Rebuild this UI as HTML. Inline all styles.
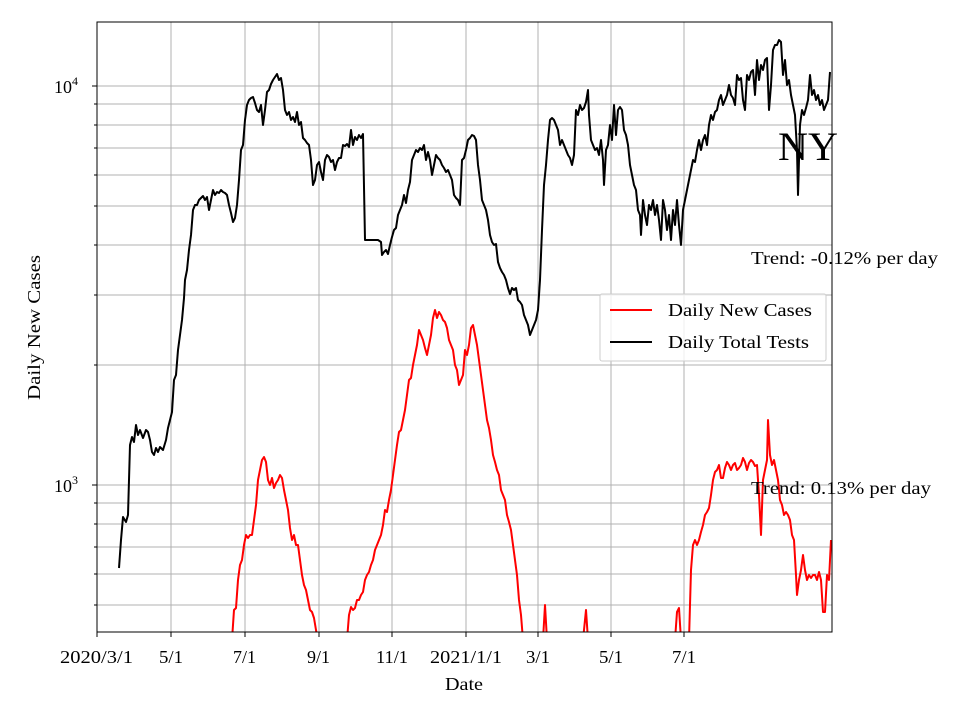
<!DOCTYPE html>
<html><head><meta charset="utf-8"><style>
body{margin:0;background:#fff}
svg text{font-family:"Liberation Serif",serif;fill:#000}
</style></head><body>
<svg width="960" height="720" viewBox="0 0 960 720" xmlns="http://www.w3.org/2000/svg">
<rect width="960" height="720" fill="#fff"/>
<defs><clipPath id="c"><rect x="97" y="22" width="735" height="610"/></clipPath></defs>
<g stroke="#b0b0b0" stroke-width="1">
<line x1="171" y1="22" x2="171" y2="632"/><line x1="245" y1="22" x2="245" y2="632"/>
<line x1="319" y1="22" x2="319" y2="632"/><line x1="392" y1="22" x2="392" y2="632"/>
<line x1="466" y1="22" x2="466" y2="632"/><line x1="538" y1="22" x2="538" y2="632"/>
<line x1="611" y1="22" x2="611" y2="632"/><line x1="684" y1="22" x2="684" y2="632"/>
<line x1="97" y1="605" x2="832" y2="605"/><line x1="97" y1="574" x2="832" y2="574"/>
<line x1="97" y1="547" x2="832" y2="547"/><line x1="97" y1="524" x2="832" y2="524"/>
<line x1="97" y1="503" x2="832" y2="503"/><line x1="97" y1="485" x2="832" y2="485"/>
<line x1="97" y1="365" x2="832" y2="365"/><line x1="97" y1="295" x2="832" y2="295"/>
<line x1="97" y1="245" x2="832" y2="245"/><line x1="97" y1="206" x2="832" y2="206"/>
<line x1="97" y1="175" x2="832" y2="175"/><line x1="97" y1="148" x2="832" y2="148"/>
<line x1="97" y1="125" x2="832" y2="125"/><line x1="97" y1="104" x2="832" y2="104"/>
<line x1="97" y1="86" x2="832" y2="86"/>
</g>
<g clip-path="url(#c)" fill="none" stroke-width="2" stroke-linejoin="round">
<polyline stroke="#000" points="119,568 121,540 123,517 126,522 128,515 130,445 132,437 134,442 136,425 138,435 140,430 143,438 146,430 148,432 150,440 152,452 154,455 156,448 158,452 160,447 163,450 166,440 168,428 170,420 172,412 174,380 176,375 178,350 180,335 182,320 184,298 185,280 187,270 189,250 191,235 193,210 195,205 197,205 199,200 201,198 203,196 205,200 207,197 209,210 211,200 213,190 215,195 217,192 219,193 221,190 223,192 225,193 227,195 229,205 231,213 233,222 235,218 237,205 239,180 241,150 243,145 245,120 247,105 249,100 251,98 253,97 255,103 257,110 259,112 261,105 263,125 265,110 267,92 269,90 271,84 273,80 275,77 277,74 279,80 281,78 283,90 285,110 287,115 289,112 291,120 293,117 295,122 297,112 299,125 301,122 303,138 305,140 307,143 309,145 311,160 313,185 315,180 317,165 319,162 321,172 323,180 325,160 327,155 329,157 331,162 333,160 335,170 337,162 339,158 341,158 343,145 345,146 347,144 349,147 351,130 353,145 355,137 357,140 359,135 361,138 363,134 365,240 367,240 370,240 375,240 378,240 381,242 382,255 384,252 386,250 388,254 390,245 392,237 394,230 396,228 398,215 400,210 402,205 404,195 406,203 408,190 410,182 412,160 414,155 416,150 418,152 420,148 422,150 424,145 426,160 428,152 430,160 432,175 434,165 436,155 438,158 440,160 442,165 444,168 446,172 448,170 450,175 452,180 454,195 456,198 458,200 460,205 462,160 464,158 466,150 468,140 470,138 472,135 474,136 476,140 478,165 480,180 482,200 484,205 486,210 488,220 490,235 492,242 494,245 496,244 498,262 500,268 502,272 504,275 506,280 508,288 510,294 512,288 514,290 516,288 518,300 520,302 522,305 524,315 526,320 528,325 530,335 532,330 534,325 536,320 538,310 540,280 542,230 544,185 546,165 548,140 550,120 552,118 554,120 556,125 558,130 560,145 562,140 564,145 566,150 568,155 570,158 572,165 574,155 576,110 578,115 580,105 582,110 584,108 586,102 588,90 589,115 591,140 593,145 595,150 597,148 599,155 601,140 603,160 604,185 606,150 608,145 610,125 612,140 614,105 616,135 618,110 620,107 622,110 624,130 626,135 628,145 630,165 632,175 634,185 636,190 638,210 640,215 641,235 643,200 645,215 647,225 649,205 651,210 653,200 655,215 657,205 659,220 661,240 663,200 665,210 667,230 669,215 671,240 673,210 675,225 677,200 679,225 681,245 683,210 685,200 687,190 689,180 691,170 693,160 695,162 697,150 699,140 701,150 703,140 705,135 707,145 709,125 711,115 713,120 715,112 717,110 719,100 721,95 723,105 725,100 727,95 729,85 731,95 733,98 735,105 737,75 739,80 741,78 743,100 745,110 747,75 749,80 751,72 753,70 755,95 757,60 759,80 761,65 763,70 765,60 767,58 769,110 771,85 773,50 775,45 777,45 779,40 781,42 783,75 785,60 787,85 789,80 791,95 793,105 795,115 797,150 798,195 800,125 802,110 804,115 806,108 808,100 810,75 812,95 814,90 816,100 818,95 820,105 822,100 824,110 826,105 828,100 830,72"/>
<g stroke="#ff0000">
<polyline points="232,640 234,610 236,608 238,580 240,565 242,560 244,545 246,535 248,538 250,535 252,535 254,520 256,505 258,480 260,470 262,460 264,457 266,462 268,480 270,485 272,478 274,488 276,483 278,480 280,475 282,478 284,490 286,500 288,510 290,528 292,540 294,535 296,545 298,545 300,560 302,575 304,585 306,590 308,600 310,610 312,612 314,618 316,630 318,640"/>
<polyline points="347,640 349,615 351,607 353,610 355,608 357,600 359,600 361,595 363,592 365,580 367,575 369,572 371,565 373,560 375,550 377,545 379,540 381,535 383,525 385,510 387,512 389,500 391,490 393,475 395,460 397,445 399,432 401,430 403,420 405,410 407,395 409,380 411,378 413,365 415,355 417,345 419,330 421,335 423,340 425,348 427,355 429,345 431,335 433,318 435,310 437,318 439,312 441,315 443,320 445,322 447,328 449,340 451,345 453,350 455,365 457,370 459,385 461,380 463,375 465,350 467,355 469,345 471,328 473,325 475,335 477,345 479,360 481,375 483,390 485,405 487,420 489,428 491,440 493,455 495,462 497,470 499,475 501,490 503,495 505,500 507,515 509,522 511,530 513,545 515,560 517,575 519,600 521,615 523,640"/>
<polyline points="543,640 545,605 547,640"/>
<polyline points="583,640 586,610 588,640"/>
<polyline points="675,640 677,612 679,608 681,640"/>
<polyline points="689,640 691,570 693,545 695,540 697,545 699,540 701,532 703,525 705,515 707,512 709,508 711,495 713,480 715,472 717,470 719,465 721,478 723,478 725,468 727,462 729,465 731,470 733,465 735,463 737,470 739,468 741,465 743,458 745,462 747,470 749,463 751,460 753,462 755,466 757,465 759,495 761,535 763,480 765,470 767,460 768,420 770,455 772,465 774,460 776,470 778,480 780,500 782,505 784,515 786,512 788,515 790,520 792,535 794,540 796,575 797,595 799,580 801,570 803,555 805,570 807,580 809,575 811,578 813,575 815,575 817,580 819,572 821,580 823,612 825,612 827,575 829,580 831,540"/>
</g>
</g>
<rect x="97" y="22" width="735" height="610" fill="none" stroke="#000" stroke-width="1"/>
<g stroke="#000" stroke-width="1">
<line x1="97" y1="632" x2="97" y2="637"/><line x1="171" y1="632" x2="171" y2="637"/><line x1="245" y1="632" x2="245" y2="637"/><line x1="319" y1="632" x2="319" y2="637"/><line x1="392" y1="632" x2="392" y2="637"/><line x1="466" y1="632" x2="466" y2="637"/><line x1="538" y1="632" x2="538" y2="637"/><line x1="611" y1="632" x2="611" y2="637"/><line x1="684" y1="632" x2="684" y2="637"/>
<line x1="92" y1="86" x2="97" y2="86"/><line x1="92" y1="485" x2="97" y2="485"/>
<line x1="94" y1="605" x2="97" y2="605"/><line x1="94" y1="574" x2="97" y2="574"/><line x1="94" y1="547" x2="97" y2="547"/><line x1="94" y1="524" x2="97" y2="524"/><line x1="94" y1="503" x2="97" y2="503"/>
<line x1="94" y1="365" x2="97" y2="365"/><line x1="94" y1="295" x2="97" y2="295"/><line x1="94" y1="245" x2="97" y2="245"/><line x1="94" y1="206" x2="97" y2="206"/><line x1="94" y1="175" x2="97" y2="175"/><line x1="94" y1="148" x2="97" y2="148"/><line x1="94" y1="125" x2="97" y2="125"/><line x1="94" y1="104" x2="97" y2="104"/>
</g>
<g font-size="18" lengthAdjust="spacingAndGlyphs">
<text x="60" y="663" textLength="73" lengthAdjust="spacingAndGlyphs">2020/3/1</text>
<text x="159" y="663" textLength="24" lengthAdjust="spacingAndGlyphs">5/1</text>
<text x="233" y="663" textLength="23" lengthAdjust="spacingAndGlyphs">7/1</text>
<text x="307" y="663" textLength="23" lengthAdjust="spacingAndGlyphs">9/1</text>
<text x="376" y="663" textLength="32" lengthAdjust="spacingAndGlyphs">11/1</text>
<text x="430" y="663" textLength="72" lengthAdjust="spacingAndGlyphs">2021/1/1</text>
<text x="526" y="663" textLength="24" lengthAdjust="spacingAndGlyphs">3/1</text>
<text x="599" y="663" textLength="24" lengthAdjust="spacingAndGlyphs">5/1</text>
<text x="672" y="663" textLength="24" lengthAdjust="spacingAndGlyphs">7/1</text>
<text x="445" y="690" textLength="38" lengthAdjust="spacingAndGlyphs">Date</text>
<text transform="translate(40,400) rotate(-90)" textLength="145" lengthAdjust="spacingAndGlyphs">Daily New Cases</text>
<text x="751" y="264" textLength="187" lengthAdjust="spacingAndGlyphs">Trend: -0.12% per day</text>
<text x="751" y="494" textLength="180" lengthAdjust="spacingAndGlyphs">Trend: 0.13% per day</text>
<text x="668" y="316" textLength="144" lengthAdjust="spacingAndGlyphs">Daily New Cases</text>
<text x="668" y="348" textLength="141" lengthAdjust="spacingAndGlyphs">Daily Total Tests</text>
</g>
<text x="54" y="93" font-size="18">10<tspan font-size="12" dy="-8">4</tspan></text>
<text x="54" y="492" font-size="18">10<tspan font-size="12" dy="-8">3</tspan></text>
<text x="778" y="160" font-size="40" textLength="60" lengthAdjust="spacingAndGlyphs">NY</text>
<rect x="600" y="294" width="226" height="67" fill="#fff" fill-opacity="0.8" stroke="#ccc" rx="2"/>
<line x1="610" y1="310" x2="652" y2="310" stroke="#ff0000" stroke-width="2"/>
<line x1="610" y1="342" x2="652" y2="342" stroke="#000" stroke-width="2"/>
<text x="668" y="316" font-size="18" textLength="144" lengthAdjust="spacingAndGlyphs">Daily New Cases</text>
<text x="668" y="348" font-size="18" textLength="141" lengthAdjust="spacingAndGlyphs">Daily Total Tests</text>
</svg>
</body></html>
